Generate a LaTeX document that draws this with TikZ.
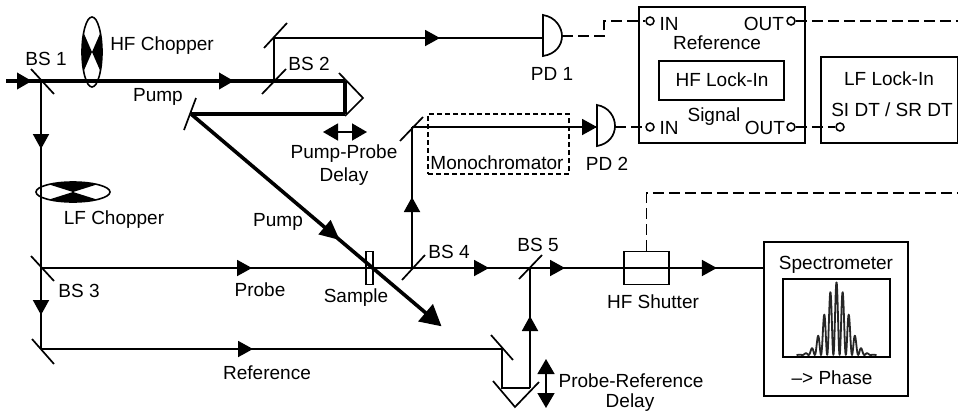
\documentclass[tikz,border=0pt]{standalone}
\usepackage{fontspec}
\setmainfont{Liberation Sans}
\usetikzlibrary{arrows.meta,decorations.markings,calc}
\tikzset{
  beam/.style={line width=1.9pt},
  pumpbeam/.style={line width=3.6pt},
  mirror/.style={line width=1.7pt},
  box/.style={draw,line width=1.7pt,inner sep=0pt,fill=none},
  dashbox/.style={draw,line width=1.4pt,dash pattern=on 5pt off 3pt,inner sep=0pt},
  elec/.style={line width=1.6pt,dash pattern=on 11pt off 5pt},
  port/.style={circle,draw,line width=1.5pt,minimum size=8pt,inner sep=0pt,fill=white},
  lbl/.style={inner sep=0pt,font=\fontsize{19}{21}\selectfont,text=black},
  tipat/.style={postaction={decorate,decoration={markings,mark=at position #1 with {\arrow{Triangle[length=15pt,width=16pt]}}}}},
  bigtipat/.style={postaction={decorate,decoration={markings,mark=at position #1 with {\arrow{Triangle[length=20pt,width=18pt]}}}}},
  dbl/.style={line width=1.5pt,{Triangle[length=15pt,width=17pt]}-{Triangle[length=15pt,width=17pt]}},
  detector/.style={line width=1.7pt,fill=white},
}
\begin{document}
\begin{tikzpicture}[x=1pt,y=-1pt]
\useasboundingbox (0,0) rectangle (958,418);
% beam-path points
\coordinate (src) at (6,81);
\coordinate (bs1) at (41,81);
\coordinate (bs2) at (274,81);
\coordinate (m2) at (274,38);
\coordinate (pd1in) at (543,38);
\coordinate (retroA) at (345,81);
\coordinate (retroB) at (345,114);
\coordinate (mp) at (191,114);
\coordinate (pumpend) at (440,325);
\coordinate (bs3) at (41,268);
\coordinate (m3) at (41,349);
\coordinate (bs4) at (412,268);
\coordinate (bs5) at (530,268);
\coordinate (m4) at (412,127);
\coordinate (pd2in) at (597,127);
\coordinate (m5) at (502,349);
\coordinate (r1) at (502,388);
\coordinate (r2) at (530,388);

% boxes
\node[box,minimum width=166pt,minimum height=136pt] (hf) at (722,75) {};
\node[box,minimum width=125pt,minimum height=39pt] (hfin) at (721.5,80.5) {};
\node[box,minimum width=137pt,minimum height=86pt] (lf) at (889.5,100) {};
\node[box,minimum width=144pt,minimum height=154pt] (spec) at (836,319) {};
\node[box,minimum width=107pt,minimum height=78pt] (plot) at (836.5,318) {};
\node[box,minimum width=45pt,minimum height=33pt] (shutter) at (646.5,268) {};
\node[box,minimum width=7pt,minimum height=33pt,line width=1.3pt] (sample) at (369.5,268) {};
\node[dashbox,minimum width=141pt,minimum height=60pt] (mono) at (498.5,144) {};
\coordinate (specin) at (spec.west |- bs5);

% pump
\draw[pumpbeam,tipat=26pt] (src) -- (bs1);
\draw[pumpbeam,tipat=193pt] (bs1) -- (retroA);
\draw[line width=4.5pt] (retroA) -- (retroB);
\draw[pumpbeam] (retroB) -- (mp);
\draw[pumpbeam,-{Triangle[length=21pt,width=22pt]},shorten >=-2pt,bigtipat=195pt] (mp) -- (pumpend);

% probe and reference
\draw[beam,tipat=68pt] (bs1) -- (bs3);
\draw[beam,tipat=211pt] (bs3) -- (bs4);
\draw[beam,tipat=77pt] (bs4) -- (bs5);
\draw[beam,tipat=35pt] (bs5) -- (shutter.west);
\draw[beam] (shutter.west) -- (shutter.east);
\draw[beam,tipat=47pt] (shutter.east) -- (specin);
\draw[beam,tipat=47pt] (bs3) -- (m3);
\draw[beam,tipat=212pt] (m3) -- (m5);
\draw[beam] (m5) -- (r1) -- (r2);
\draw[beam,tipat=72pt] (r2) -- (bs5);
\draw[beam,tipat=71pt] (bs4) -- (m4);
\draw[beam,tipat=209pt] (bs2) -- (m2) -- (pd1in);
\draw[beam,tipat=185pt] (m4) -- (pd2in);

% mirrors
\draw[mirror] (31,69) -- (54,94);
\draw[mirror] (262,94) -- (286,69);
\draw[mirror] (264,48) -- (287,23);
\draw[mirror] (339,73) -- (363,98) -- (345,116);
\draw[mirror] (196,98) -- (184,130);
\draw[mirror] (31,256) -- (54,281);
\draw[mirror] (32,339) -- (54,364);
\draw[mirror] (402,280) -- (425,255);
\draw[mirror] (400,141) -- (423,117);
\draw[mirror] (519,279) -- (542,255);
\draw[mirror] (491,335) -- (513,360);
\draw[mirror] (493,381) -- (515,407) -- (539,382);

% delay arrows
\coordinate (da) at (323,132);
\coordinate (db) at (367,132);
\draw[dbl] (da) -- (db);
\coordinate (dc) at (546,359);
\coordinate (dd) at (546,408);
\draw[dbl] (dc) -- (dd);

% choppers
\coordinate (hc) at (92,52);
\begin{scope}
\clip (hc) ellipse [x radius=10, y radius=35];
\fill (hc) -- ++(14,-32) -- ++(0,64) -- cycle;
\fill (hc) -- ++(-14,-32) -- ++(0,64) -- cycle;
\end{scope}
\draw[line width=1.6pt] (hc) ellipse [x radius=10, y radius=35];
\coordinate (lc) at (73,192);
\begin{scope}
\clip (lc) ellipse [x radius=37, y radius=10];
\fill (lc) -- ++(-38,-12) -- ++(76,0) -- cycle;
\fill (lc) -- ++(-38,12) -- ++(76,0) -- cycle;
\end{scope}
\draw[line width=1.6pt] (lc) ellipse [x radius=37, y radius=10];

% photodiodes
\draw[detector] (543,15) .. controls (556,17) and (562,28) .. (562,36)
  .. controls (562,45) and (556,54) .. (543,56) -- cycle;
\coordinate (pd1out) at (562,36);
\draw[detector] (597,105) .. controls (609,107) and (615,117) .. (615,126)
  .. controls (615,135) and (609,144) .. (597,146) -- cycle;
\coordinate (pd2out) at (615,127);

% ports
\node[port] (in1) at (650,21) {};
\node[port] (out1) at (791,21) {};
\node[port] (in2) at (650,127) {};
\node[port] (out2) at (791,127) {};
\node[port] (si) at (840,127) {};

% electrical lines
\coordinate (e1) at (958,21);
\coordinate (e2) at (958,193);
\draw[elec] (pd1out) -- (604,36) -- (604,21) -- (in1);
\draw[elec] (out1) -- (e1);
\draw[elec] (pd2out) -- (in2);
\draw[elec] (out2) -- (si);
\draw[elec] (shutter.north) -- (shutter.north |- e2) -- (e2);

% spectrum
\begin{scope}
\clip (plot.north west) rectangle (plot.south east);
\draw[line width=1.8pt,black!85,line join=round] plot[smooth,samples=240,domain=-40:40,variable=\t]
  ({836.5+\t},{355-73*exp(-\t*\t/256)*(cos(180*\t/6.2))^2});
\draw[line width=2.4pt] (plot.south west) ++(0,-1) -- ($(plot.south east)+(0,-1)$);
\end{scope}

% labels
\node[lbl] (tbs1) at (46,59) {BS 1};
\node[lbl] (thf) at (162,46) {HF Chopper};
\node[lbl] (tbs2) at (309,64) {BS 2};
\node[lbl] (tp1) at (158,97) {Pump};
\node[lbl] (tpp) at (344,154) {Pump-Probe};
\node[lbl] (tpd) at (344,177) {Delay};
\node[lbl] (tlf) at (114,220) {LF Chopper};
\node[lbl] (tp2) at (278,222) {Pump};
\node[lbl] (tbs3) at (79,291) {BS 3};
\node[lbl] (tprobe) at (260,290) {Probe};
\node[lbl] (tsample) at (356,298) {Sample};
\node[lbl] (tbs4) at (449,252) {BS 4};
\node[lbl] (tbs5) at (538,245) {BS 5};
\node[lbl] (tshut) at (653,302) {HF Shutter};
\node[lbl] (tref) at (267,373) {Reference};
\node[lbl] (tprd) at (631,381) {Probe-Reference};
\node[lbl] (tprd2) at (630,403) {Delay};
\node[lbl] (tspec) at (836,265) {Spectrometer};
\node[lbl] (tphase) at (832,378) {–> Phase};
\node[lbl] (tmono) at (497,163) {Monochromator};
\node[lbl] (tpd1) at (552,74) {PD 1};
\node[lbl] (tpd2) at (607,164) {PD 2};
\node[lbl] (tin1) at (669,24) {IN};
\node[lbl] (tout1) at (764,24) {OUT};
\node[lbl] (trefb) at (717,43) {Reference};
\node[lbl] (thfl) at (722,80) {HF Lock-In};
\node[lbl] (tsig) at (714,117) {Signal};
\node[lbl] (tin2) at (669,128) {IN};
\node[lbl] (tout2) at (765,128) {OUT};
\node[lbl] (tlfl) at (889,79) {LF Lock-In};
\node[lbl] (tsi) at (892,110) {SI DT / SR DT};
\end{tikzpicture}
\end{document}
